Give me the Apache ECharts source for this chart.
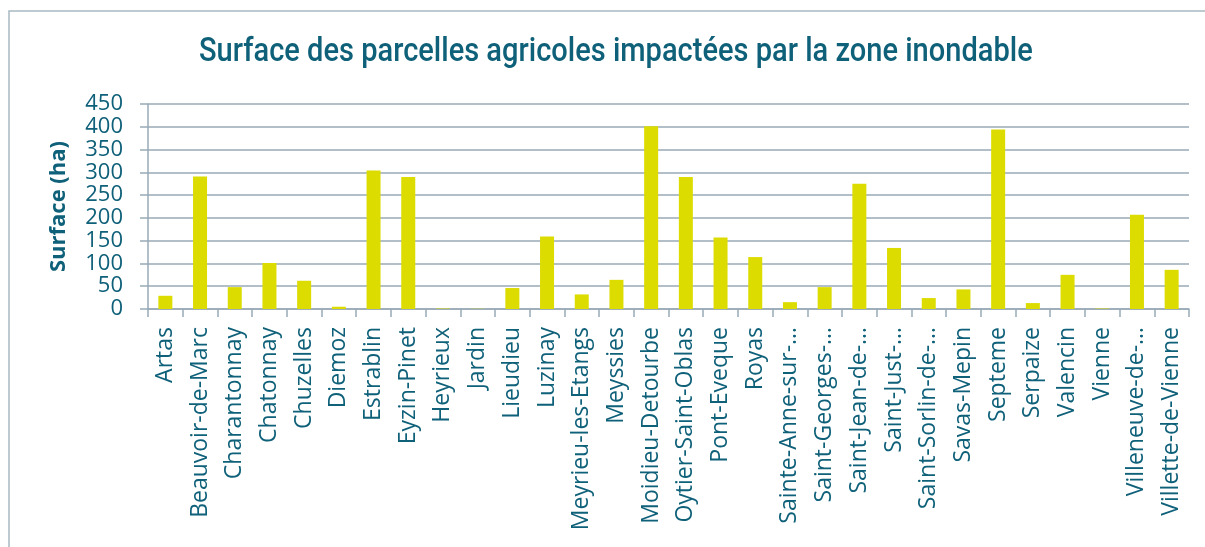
<!DOCTYPE html>
<html>
<head>
<meta charset="utf-8">
<script src="https://cdn.jsdelivr.net/npm/echarts@6/dist/echarts.min.js"></script>
<style>
  html, body { margin: 0; padding: 0; background: #fff; }
  #chart { width: 1205px; height: 547px; }
</style>
</head>
<body>
<div id="chart"></div>
<script>
const communes = [
	'Artas', 'Beauvoir-de-Marc', 'Charantonnay', 'Chatonnay', 'Chuzelles', 'Diemoz',
	'Estrablin', 'Eyzin-Pinet', 'Heyrieux', 'Jardin', 'Lieudieu', 'Luzinay',
	'Meyrieu-les-Etangs', 'Meyssies', 'Moidieu-Detourbe', 'Oytier-Saint-Oblas',
	'Pont-Eveque', 'Royas', 'Sainte-Anne-sur-…', 'Saint-Georges-…', 'Saint-Jean-de-…',
	'Saint-Just-…', 'Saint-Sorlin-de-…', 'Savas-Mepin', 'Septeme', 'Serpaize',
	'Valencin', 'Vienne', 'Villeneuve-de-…', 'Villette-de-Vienne'
];
const surfaces = [
	29, 291, 48, 101, 62, 5,
	304, 290, 1, 0.5, 46, 159,
	32, 64, 401, 290,
	157, 114, 15, 48, 275,
	134, 24, 43, 394, 13,
	75, 1, 207, 86
];
const yTicks = { min: 0, max: 450, interval: 50 };

const textColor = '#0f6079';
const gridColor = '#98aab6';

const chart = echarts.init(document.getElementById('chart'));

chart.setOption({
	animation: false,
	graphic: [{
		type: 'rect',
		shape: { x: 9, y: 11, width: 1300, height: 600 },
		style: { fill: 'none', stroke: '#a9b9c4', lineWidth: 1.5 },
		silent: true
	}, {
		// condensed title: no narrow font installed, so squeeze Roboto
		type: 'text',
		x: 199,
		y: 36,
		scaleX: 0.88,
		style: {
			text: 'Surface des parcelles agricoles impactées par la zone inondable',
			font: '500 33px Roboto',
			fill: textColor,
			verticalAlign: 'top'
		},
		silent: true
	}],
	grid: {
		left: 148,
		right: 16,
		top: 104,
		bottom: 238
	},
	xAxis: {
		type: 'category',
		data: communes,
		axisLine: { lineStyle: { color: gridColor, width: 1.5 } },
		axisTick: { show: true, interval: 0, length: 8, lineStyle: { color: gridColor, width: 1.5 } },
		axisLabel: {
			interval: 0,
			rotate: 90,
			margin: 18,
			fontFamily: 'Open Sans',
			fontSize: 23,
			color: textColor
		}
	},
	yAxis: {
		type: 'value',
		min: yTicks.min,
		max: yTicks.max,
		interval: yTicks.interval,
		name: 'Surface (ha)',
		nameLocation: 'middle',
		nameRotate: 90,
		nameGap: 78,
		nameTextStyle: {
			fontFamily: 'Open Sans',
			fontSize: 22,
			fontWeight: 'bold',
			color: textColor
		},
		axisLine: { show: true, lineStyle: { color: gridColor, width: 1.5 } },
		axisTick: { show: true, length: 8, lineStyle: { color: gridColor, width: 1.5 } },
		axisLabel: {
			margin: 25,
			fontFamily: 'Open Sans',
			fontSize: 22,
			color: textColor
		},
		splitLine: { lineStyle: { color: gridColor, width: 1.5 } }
	},
	series: [{
		type: 'bar',
		data: surfaces,
		barWidth: 14,
		itemStyle: { color: '#dcdc00' }
	}]
});
</script>
</body>
</html>
